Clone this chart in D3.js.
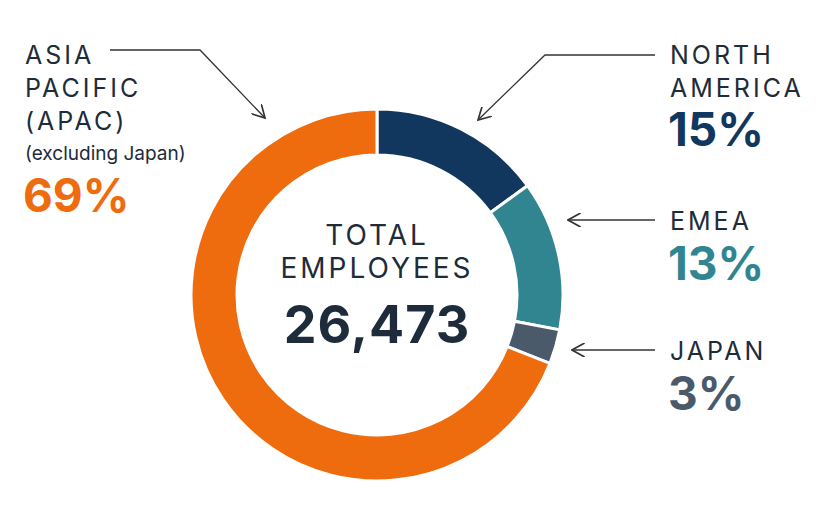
<!DOCTYPE html>
<html><head><meta charset="utf-8">
<script src="https://cdn.jsdelivr.net/npm/d3@7"></script>
<style>body{margin:0;background:#fff}text{font-family:Inter,"Open Sans",sans-serif}</style>
</head><body>
<svg id="c" width="839" height="510"></svg>
<script>
// share of employees by region, clockwise from 12 o'clock
let regions = ["North America","EMEA","Japan","APAC"]
let shares = [15,13,3,69]
let colors = ["#11375e","#318591","#4a5a6a","#ee6c0e"]
let total = "26,473"

let svg = d3.select("#c")
let cx = 377, cy = 295

let pie = d3.pie().sort(null).value(d=>d)
let arc = d3.arc().innerRadius(140).outerRadius(186)

svg.append("g").attr("transform","translate("+cx+","+cy+")")
  .selectAll("path").data(pie(shares)).join("path")
  .attr("d",arc).attr("fill",(d,i)=>colors[i])
  .attr("stroke","#fff").attr("stroke-width",3)

let dark = "#1d2b3a"
function txt(x,y,s,size,col,weight,ls,anchor){
  svg.append("text").attr("x",x).attr("y",y).text(s)
    .attr("font-size",size).attr("fill",col).attr("font-weight",weight||400)
    .attr("letter-spacing",ls||0).attr("text-anchor",anchor||"start")
}

// centre
txt(cx,245,"TOTAL",28,dark,400,3,"middle")
txt(cx,278,"EMPLOYEES",28,dark,400,3,"middle")
txt(cx,343,total,52,dark,700,1,"middle")

// labels
txt(670,64,"NORTH",25,dark,400,3)
txt(670,97,"AMERICA",25,dark,400,3)
txt(668,146,shares[0]+"%",46,colors[0],700)
txt(670,230,"EMEA",25,dark,400,3)
txt(668,280,shares[1]+"%",46,colors[1],700)
txt(670,360,"JAPAN",25,dark,400,3)
txt(668,410,shares[2]+"%",46,colors[2],700)
txt(25,64,"ASIA",25,dark,400,3)
txt(25,97,"PACIFIC",25,dark,400,3)
txt(25,130,"(APAC)",25,dark,400,3)
txt(25,160,"(excluding Japan)",19,dark,400,0)
txt(23,212,shares[3]+"%",46,colors[3],700)

// arrows
svg.append("defs").append("marker").attr("id","ah").attr("viewBox","0 0 10 10")
  .attr("refX",9).attr("refY",5).attr("markerWidth",14).attr("markerHeight",14)
  .attr("markerUnits","userSpaceOnUse").attr("orient","auto")
  .append("path").attr("d","M0,0L9,5L0,10").attr("fill","none").attr("stroke","#333").attr("stroke-width",1.2)
let lines = [
  [[655,55],[545,55],[478,120]],
  [[655,220],[568,220]],
  [[655,350],[572,350]],
  [[110,50],[200,50],[265,118]]
]
svg.selectAll(".arr").data(lines).join("path")
  .attr("d",d=>d3.line()(d)).attr("fill","none").attr("stroke","#333")
  .attr("stroke-width",1.3).attr("marker-end","url(#ah)")
</script>
</body></html>
